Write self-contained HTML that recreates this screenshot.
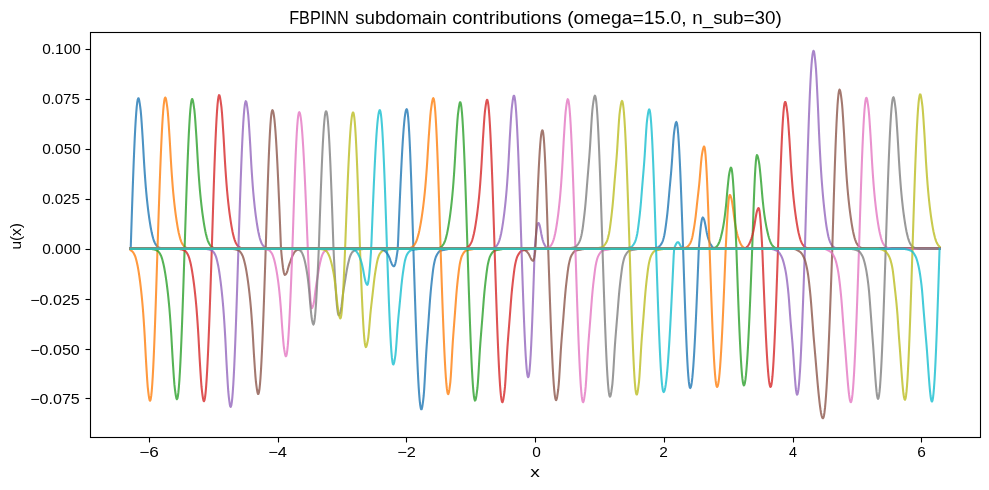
<!DOCTYPE html>
<html><head><meta charset="utf-8"><title>FBPINN subdomain contributions</title>
<style>
html,body{margin:0;padding:0;background:#fff;}
body{width:989px;height:490px;overflow:hidden;font-family:"Liberation Sans",sans-serif;}
svg{display:block;}
text{font-family:"Liberation Sans",sans-serif;fill:#000;}
.txt{opacity:0.999;}
.cv path{fill:none;stroke-width:2.083;stroke-opacity:0.8;stroke-linecap:square;stroke-linejoin:round;}
.tk line{stroke:#000;stroke-width:1.11;}
</style></head>
<body>
<svg width="989" height="490" viewBox="0 0 989 490">
<rect x="0" y="0" width="989" height="490" fill="#ffffff"/>
<defs><clipPath id="ax"><rect x="90.28" y="32.33" width="889.72" height="404.39"/></clipPath></defs>
<g class="cv" clip-path="url(#ax)">
<path d="M130.72,248.28 L131.22,232.94 L131.72,217.76 L132.22,202.90 L132.72,188.52 L133.22,174.77 L133.72,161.79 L134.22,149.72 L134.72,138.67 L135.22,128.77 L135.72,120.12 L136.22,112.81 L136.72,106.92 L137.22,102.50 L137.72,99.60 L138.22,98.25 L138.72,98.53 L139.22,100.39 L139.72,103.35 L140.22,106.92 L140.72,110.93 L141.22,116.65 L141.72,123.68 L142.22,131.29 L142.72,138.95 L143.22,147.57 L143.72,156.62 L144.22,165.13 L144.72,172.56 L145.22,179.58 L145.72,186.08 L146.22,191.93 L146.72,197.12 L147.22,201.95 L147.72,206.43 L148.22,210.59 L148.72,214.44 L149.22,217.99 L149.72,221.34 L150.22,224.51 L150.72,227.47 L151.22,230.18 L151.72,232.61 L152.22,234.76 L152.72,236.74 L153.22,238.56 L153.72,240.18 L154.22,241.54 L154.72,242.64 L155.22,243.61 L155.72,244.46 L156.22,245.19 L156.72,245.81 L157.22,246.30 L157.72,246.74 L158.22,247.11 L158.72,247.41 L159.22,247.64 L159.72,247.82 L160.22,247.99 L160.72,248.13 L161.22,248.26 L161.72,248.37 L162.22,248.47 L162.72,248.57 L163.22,248.65 L163.72,248.73 L164.22,248.80 L164.72,248.86 L165.18,248.90 L939.56,248.90" stroke="#1f77b4"/>
<path d="M130.72,250.28 L131.22,250.56 L131.72,250.93 L132.22,251.37 L132.72,251.89 L133.22,252.52 L133.72,253.28 L134.22,254.19 L134.72,255.23 L135.22,256.43 L135.72,257.93 L136.22,259.71 L136.72,261.72 L137.22,263.91 L137.72,266.32 L138.22,269.08 L138.72,272.14 L139.22,275.47 L139.72,279.01 L140.22,282.76 L140.72,286.83 L141.22,291.26 L141.72,296.06 L142.22,301.25 L142.72,306.87 L143.22,313.27 L143.72,320.39 L144.22,328.05 L144.72,336.38 L145.22,345.89 L145.72,355.53 L146.22,364.15 L146.72,372.37 L147.22,380.22 L147.72,386.81 L148.22,391.41 L148.72,395.29 L149.22,398.53 L149.72,400.52 L150.22,400.69 L150.72,399.13 L151.22,395.92 L151.72,391.10 L152.22,384.72 L152.72,376.85 L153.22,367.59 L153.72,357.02 L154.22,345.27 L154.72,332.46 L155.22,318.73 L155.72,304.24 L156.22,289.15 L156.72,273.61 L157.22,257.81 L157.72,242.19 L158.22,227.02 L158.72,212.06 L159.22,197.48 L159.72,183.42 L160.22,170.03 L160.72,157.43 L161.22,145.76 L161.72,135.13 L162.22,125.66 L162.72,117.44 L163.22,110.54 L163.72,105.05 L164.22,101.02 L164.72,98.48 L165.22,97.47 L165.72,98.08 L166.22,100.20 L166.72,103.32 L167.22,106.94 L167.72,111.18 L168.22,117.18 L168.72,124.35 L169.22,131.99 L169.72,139.73 L170.22,148.48 L170.72,157.51 L171.22,165.86 L171.72,173.20 L172.22,180.16 L172.72,186.59 L173.22,192.34 L173.72,197.47 L174.22,202.26 L174.72,206.71 L175.22,210.83 L175.72,214.65 L176.22,218.17 L176.72,221.50 L177.22,224.66 L177.72,227.60 L178.22,230.29 L178.72,232.70 L179.22,234.83 L179.72,236.80 L180.22,238.61 L180.72,240.22 L181.22,241.57 L181.72,242.66 L182.22,243.62 L182.72,244.47 L183.22,245.19 L183.72,245.80 L184.22,246.30 L184.72,246.73 L185.22,247.10 L185.72,247.40 L186.22,247.63 L186.72,247.82 L187.22,247.98 L187.72,248.13 L188.22,248.26 L188.72,248.37 L189.22,248.47 L189.72,248.56 L190.22,248.65 L190.72,248.73 L191.22,248.80 L191.72,248.86 L192.21,248.90 L939.56,248.90" stroke="#ff7f0e"/>
<path d="M130.72,248.90 L150.38,248.90 L150.88,248.94 L151.38,249.00 L151.88,249.07 L152.38,249.15 L152.88,249.24 L153.38,249.34 L153.88,249.44 L154.38,249.56 L154.88,249.69 L155.38,249.83 L155.88,250.01 L156.38,250.20 L156.88,250.44 L157.38,250.76 L157.88,251.15 L158.38,251.60 L158.88,252.13 L159.38,252.77 L159.88,253.54 L160.38,254.43 L160.88,255.43 L161.38,256.61 L161.88,258.07 L162.38,259.76 L162.88,261.65 L163.38,263.70 L163.88,265.95 L164.38,268.50 L164.88,271.32 L165.38,274.38 L165.88,277.65 L166.38,281.09 L166.88,284.78 L167.38,288.78 L167.88,293.11 L168.38,297.77 L168.88,302.78 L169.38,308.27 L169.88,314.48 L170.38,321.29 L170.88,328.54 L171.38,336.50 L171.88,345.46 L172.38,354.47 L172.88,362.57 L173.38,370.26 L173.88,377.70 L174.38,384.15 L174.88,388.87 L175.38,392.57 L175.88,395.88 L176.38,398.28 L176.88,399.25 L177.38,398.53 L177.88,396.26 L178.38,392.45 L178.88,387.15 L179.38,380.42 L179.88,372.31 L180.38,362.93 L180.88,352.36 L181.38,340.71 L181.88,328.11 L182.38,314.69 L182.88,300.58 L183.38,285.93 L183.88,270.90 L184.38,255.65 L184.88,240.23 L185.38,224.83 L185.88,209.69 L186.38,194.97 L186.88,180.82 L187.38,167.40 L187.88,154.85 L188.38,143.31 L188.88,132.89 L189.38,123.71 L189.88,115.86 L190.38,109.43 L190.88,104.50 L191.38,101.10 L191.88,99.28 L192.38,99.07 L192.88,100.49 L193.38,103.15 L193.88,106.53 L194.38,110.22 L194.88,115.29 L195.38,121.86 L195.88,129.24 L196.38,136.73 L196.88,144.83 L197.38,153.70 L197.88,162.40 L198.38,170.08 L198.88,177.15 L199.38,183.78 L199.88,189.84 L200.38,195.19 L200.88,200.09 L201.38,204.66 L201.88,208.91 L202.38,212.84 L202.88,216.47 L203.38,219.86 L203.88,223.07 L204.38,226.10 L204.88,228.90 L205.38,231.45 L205.88,233.70 L206.38,235.73 L206.88,237.62 L207.38,239.33 L207.88,240.83 L208.38,242.06 L208.88,243.07 L209.38,243.98 L209.88,244.78 L210.38,245.45 L210.88,246.01 L211.38,246.48 L211.88,246.88 L212.38,247.23 L212.88,247.50 L213.38,247.70 L213.88,247.88 L214.38,248.04 L214.88,248.18 L215.38,248.30 L215.88,248.40 L216.38,248.50 L216.88,248.59 L217.38,248.68 L217.88,248.75 L218.38,248.82 L218.88,248.87 L219.24,248.90 L939.56,248.90" stroke="#2ca02c"/>
<path d="M130.72,248.90 L178.03,248.90 L178.53,248.95 L179.03,249.01 L179.53,249.08 L180.03,249.17 L180.53,249.26 L181.03,249.36 L181.53,249.47 L182.03,249.59 L182.53,249.73 L183.03,249.89 L183.53,250.07 L184.03,250.28 L184.53,250.56 L185.03,250.91 L185.53,251.34 L186.03,251.84 L186.53,252.43 L187.03,253.16 L187.53,254.02 L188.03,255.00 L188.53,256.11 L189.03,257.50 L189.53,259.15 L190.03,261.04 L190.53,263.11 L191.03,265.35 L191.53,267.89 L192.03,270.75 L192.53,273.86 L193.03,277.20 L193.53,280.73 L194.03,284.50 L194.53,288.60 L195.03,293.03 L195.53,297.83 L196.03,303.00 L196.53,308.64 L197.03,315.05 L197.53,322.11 L198.03,329.64 L198.53,337.93 L199.03,347.26 L199.53,356.58 L200.03,364.89 L200.53,372.89 L201.03,380.51 L201.53,386.96 L202.03,391.51 L202.53,395.31 L203.03,398.57 L203.53,400.71 L204.03,401.20 L204.53,400.06 L205.03,397.42 L205.53,393.32 L206.03,387.79 L206.53,380.89 L207.03,372.69 L207.53,363.26 L208.03,352.70 L208.53,341.12 L209.03,328.63 L209.53,315.35 L210.03,301.42 L210.53,286.96 L211.03,272.13 L211.53,257.08 L212.03,241.39 L212.53,225.16 L213.03,209.19 L213.53,193.66 L214.03,178.76 L214.53,164.65 L215.03,151.49 L215.53,139.42 L216.03,128.59 L216.53,119.11 L217.03,111.09 L217.53,104.62 L218.03,99.77 L218.53,96.60 L219.03,95.15 L219.53,95.45 L220.03,97.34 L220.53,100.34 L221.03,103.95 L221.53,107.97 L222.03,113.71 L222.53,120.77 L223.03,128.45 L223.53,136.17 L224.03,144.82 L224.53,153.96 L225.03,162.66 L225.53,170.24 L226.03,177.38 L226.53,184.02 L227.03,190.02 L227.53,195.34 L228.03,200.27 L228.53,204.85 L229.03,209.11 L229.53,213.05 L230.03,216.69 L230.53,220.11 L231.03,223.35 L231.53,226.39 L232.03,229.19 L232.53,231.72 L233.03,233.95 L233.53,235.99 L234.03,237.88 L234.53,239.57 L235.03,241.03 L235.53,242.20 L236.03,243.21 L236.53,244.11 L237.03,244.89 L237.53,245.55 L238.03,246.09 L238.53,246.55 L239.03,246.95 L239.53,247.27 L240.03,247.53 L240.53,247.73 L241.03,247.91 L241.53,248.06 L242.03,248.20 L242.53,248.31 L243.03,248.42 L243.53,248.52 L244.03,248.61 L244.53,248.69 L245.03,248.77 L245.53,248.83 L246.03,248.88 L246.24,248.90 L939.56,248.90" stroke="#d62728"/>
<path d="M130.72,248.90 L205.77,248.90 L206.27,248.95 L206.77,249.02 L207.27,249.10 L207.77,249.19 L208.27,249.30 L208.77,249.40 L209.27,249.52 L209.77,249.66 L210.27,249.82 L210.77,250.00 L211.27,250.21 L211.77,250.47 L212.27,250.81 L212.77,251.24 L213.27,251.75 L213.77,252.35 L214.27,253.09 L214.77,253.98 L215.27,255.01 L215.77,256.18 L216.27,257.63 L216.77,259.39 L217.27,261.42 L217.77,263.65 L218.27,266.08 L218.77,268.86 L219.27,271.97 L219.77,275.38 L220.27,279.03 L220.77,282.90 L221.27,287.06 L221.77,291.61 L222.27,296.54 L222.77,301.89 L223.27,307.66 L223.77,314.16 L224.27,321.48 L224.77,329.42 L225.27,337.93 L225.77,347.74 L226.27,357.94 L226.77,367.27 L227.27,375.88 L227.77,384.25 L228.27,391.45 L228.77,396.56 L229.27,400.67 L229.77,404.20 L230.27,406.47 L230.77,406.86 L231.27,405.51 L231.77,402.58 L232.27,398.10 L232.77,392.10 L233.27,384.65 L233.77,375.82 L234.27,365.71 L234.77,354.42 L235.27,342.06 L235.77,328.75 L236.27,314.64 L236.77,299.85 L237.27,284.56 L237.77,268.90 L238.27,253.04 L238.77,237.46 L239.27,222.13 L239.77,207.09 L240.27,192.50 L240.77,178.54 L241.27,165.34 L241.77,153.06 L242.27,141.83 L242.77,131.78 L243.27,123.00 L243.77,115.61 L244.27,109.68 L244.77,105.27 L245.27,102.43 L245.77,101.20 L246.27,101.69 L246.77,103.82 L247.27,107.05 L247.77,110.81 L248.27,115.40 L248.77,121.88 L249.27,129.45 L249.77,137.32 L250.27,145.64 L250.77,154.89 L251.27,163.98 L251.77,171.94 L252.27,179.28 L252.77,186.11 L253.27,192.26 L253.77,197.67 L254.27,202.67 L254.77,207.30 L255.27,211.57 L255.77,215.51 L256.27,219.13 L256.77,222.55 L257.27,225.77 L257.77,228.75 L258.27,231.45 L258.77,233.84 L259.27,235.96 L259.77,237.93 L260.27,239.69 L260.77,241.21 L261.27,242.43 L261.77,243.46 L262.27,244.37 L262.77,245.15 L263.27,245.80 L263.77,246.32 L264.27,246.77 L264.77,247.15 L265.27,247.46 L265.77,247.69 L266.27,247.88 L266.77,248.04 L267.27,248.19 L267.77,248.31 L268.27,248.42 L268.77,248.52 L269.27,248.62 L269.77,248.70 L270.27,248.78 L270.77,248.84 L271.27,248.89 L271.38,248.90 L939.56,248.90" stroke="#9467bd"/>
<path d="M130.72,248.90 L231.94,248.90 L232.44,248.94 L232.94,249.00 L233.44,249.07 L233.94,249.15 L234.44,249.24 L234.94,249.33 L235.44,249.43 L235.94,249.54 L236.44,249.67 L236.94,249.82 L237.44,249.99 L237.94,250.18 L238.44,250.42 L238.94,250.74 L239.44,251.13 L239.94,251.58 L240.44,252.11 L240.94,252.77 L241.44,253.54 L241.94,254.43 L242.44,255.43 L242.94,256.63 L243.44,258.11 L243.94,259.81 L244.44,261.70 L244.94,263.73 L245.44,266.00 L245.94,268.56 L246.44,271.39 L246.94,274.44 L247.44,277.68 L247.94,281.10 L248.44,284.79 L248.94,288.80 L249.44,293.13 L249.94,297.80 L250.44,302.82 L250.94,308.43 L251.44,314.73 L251.94,321.57 L252.44,328.80 L252.94,337.06 L253.44,345.94 L253.94,354.46 L254.44,362.01 L254.94,369.49 L255.44,376.39 L255.94,381.98 L256.44,385.88 L256.94,389.36 L257.44,392.21 L257.94,393.90 L258.44,393.97 L258.94,392.41 L259.44,389.28 L259.94,384.61 L260.44,378.46 L260.94,370.88 L261.44,361.97 L261.94,351.82 L262.44,340.55 L262.94,328.26 L263.44,315.11 L263.94,301.24 L264.44,286.79 L264.94,271.92 L265.44,256.81 L265.94,241.10 L266.44,224.95 L266.94,209.13 L267.44,193.86 L267.94,179.34 L268.44,165.77 L268.94,153.35 L269.44,142.24 L269.94,132.59 L270.44,124.54 L270.94,118.20 L271.44,113.65 L271.94,110.96 L272.44,110.15 L272.94,110.82 L273.44,112.65 L273.94,115.60 L274.44,119.67 L274.94,124.82 L275.44,131.00 L275.94,138.16 L276.44,146.24 L276.94,155.18 L277.44,164.90 L277.94,175.33 L278.44,186.36 L278.94,197.92 L279.44,209.90 L279.94,222.20 L280.44,234.73 L280.94,247.38 L281.44,253.49 L281.94,258.53 L282.44,263.18 L282.94,267.25 L283.44,270.57 L283.94,273.03 L284.44,274.50 L284.94,274.95 L285.44,274.69 L285.94,274.09 L286.44,273.32 L286.94,272.32 L287.44,270.80 L287.94,268.96 L288.44,267.08 L288.94,265.39 L289.44,263.96 L289.94,262.60 L290.44,261.26 L290.94,259.88 L291.44,258.45 L291.94,257.10 L292.44,255.92 L292.94,254.88 L293.44,253.96 L293.94,253.07 L294.44,252.25 L294.94,251.60 L295.44,251.10 L295.94,250.68 L296.44,250.33 L296.94,250.09 L297.44,249.89 L297.94,249.71 L298.44,249.56 L298.94,249.43 L299.44,249.32 L299.94,249.24 L300.44,249.20 L300.94,249.16 L301.44,249.14 L301.94,249.11 L302.44,249.09 L302.94,249.07 L303.44,249.06 L303.94,249.04 L304.44,249.02 L304.94,249.00 L305.44,248.98 L305.94,248.96 L306.44,248.94 L306.94,248.92 L307.31,248.90 L939.56,248.90" stroke="#8c564b"/>
<path d="M130.72,248.90 L262.76,248.90 L263.26,248.94 L263.76,248.99 L264.26,249.05 L264.76,249.12 L265.26,249.20 L265.76,249.28 L266.26,249.37 L266.76,249.48 L267.26,249.60 L267.76,249.75 L268.26,249.93 L268.76,250.17 L269.26,250.48 L269.76,250.84 L270.26,251.29 L270.76,251.84 L271.26,252.51 L271.76,253.29 L272.26,254.20 L272.76,255.36 L273.26,256.75 L273.76,258.32 L274.26,260.03 L274.76,261.98 L275.26,264.20 L275.76,266.66 L276.26,269.31 L276.76,272.13 L277.26,275.20 L277.76,278.55 L278.26,282.22 L278.76,286.21 L279.26,290.58 L279.76,295.61 L280.26,301.20 L280.76,307.19 L281.26,314.04 L281.76,321.49 L282.26,328.48 L282.76,334.76 L283.26,340.89 L283.76,346.10 L284.26,349.68 L284.76,352.64 L285.26,355.03 L285.76,356.28 L286.26,355.94 L286.76,354.04 L287.26,350.60 L287.76,345.68 L288.26,339.34 L288.76,331.69 L289.26,322.83 L289.76,312.89 L290.26,302.02 L290.76,290.38 L291.26,278.13 L291.76,265.45 L292.26,252.53 L292.76,237.54 L293.26,221.91 L293.76,206.64 L294.26,191.94 L294.76,177.99 L295.26,164.99 L295.76,153.10 L296.26,142.49 L296.76,133.30 L297.26,125.65 L297.76,119.65 L298.26,115.36 L298.76,112.86 L299.26,112.16 L299.76,112.86 L300.26,114.71 L300.76,117.66 L301.26,121.72 L301.76,126.83 L302.26,132.96 L302.76,140.06 L303.26,148.06 L303.76,156.90 L304.26,166.51 L304.76,176.81 L305.26,187.71 L305.76,199.12 L306.26,210.94 L306.76,223.08 L307.26,235.43 L307.76,247.90 L308.26,259.56 L308.76,270.75 L309.26,281.09 L309.76,290.20 L310.26,297.72 L310.76,303.37 L311.26,306.92 L311.76,308.24 L312.26,307.83 L312.76,306.64 L313.26,305.01 L313.76,303.08 L314.26,300.05 L314.76,296.19 L315.26,292.02 L315.76,288.06 L316.26,284.72 L316.76,281.67 L317.26,278.72 L317.76,275.75 L318.26,272.64 L318.76,269.54 L319.26,266.67 L319.76,264.19 L320.26,261.98 L320.76,259.98 L321.26,258.04 L321.76,256.30 L322.26,254.91 L322.76,253.84 L323.26,252.91 L323.76,252.16 L324.26,251.62 L324.76,251.19 L325.26,250.79 L325.76,250.44 L326.26,250.15 L326.76,249.90 L327.26,249.72 L327.76,249.60 L328.26,249.52 L328.76,249.46 L329.26,249.40 L329.76,249.35 L330.26,249.31 L330.76,249.27 L331.26,249.24 L331.76,249.20 L332.26,249.15 L332.76,249.11 L333.26,249.06 L333.76,249.01 L334.26,248.97 L334.76,248.92 L335.02,248.90 L939.56,248.90" stroke="#e377c2"/>
<path d="M130.72,248.90 L293.90,248.90 L294.40,248.93 L294.90,248.98 L295.40,249.03 L295.90,249.09 L296.40,249.16 L296.90,249.24 L297.40,249.33 L297.90,249.45 L298.40,249.58 L298.90,249.77 L299.40,250.02 L299.90,250.34 L300.40,250.74 L300.90,251.25 L301.40,251.88 L301.90,252.62 L302.40,253.61 L302.90,254.81 L303.40,256.18 L303.90,257.72 L304.40,259.54 L304.90,261.60 L305.40,263.84 L305.90,266.27 L306.40,268.97 L306.90,271.97 L307.40,275.29 L307.90,279.01 L308.40,283.37 L308.90,288.23 L309.40,293.67 L309.90,299.87 L310.40,305.64 L310.90,310.89 L311.40,315.74 L311.90,319.25 L312.40,321.76 L312.90,323.74 L313.40,324.55 L313.90,323.75 L314.40,321.37 L314.90,317.46 L315.40,312.10 L315.90,305.41 L316.40,297.53 L316.90,288.61 L317.40,278.86 L317.90,268.48 L318.40,257.68 L318.90,245.94 L319.40,231.16 L319.90,216.60 L320.40,202.41 L320.90,188.75 L321.40,175.79 L321.90,163.68 L322.40,152.55 L322.90,142.54 L323.40,133.75 L323.90,126.30 L324.40,120.26 L324.90,115.72 L325.40,112.71 L325.90,111.28 L326.40,111.43 L326.90,113.13 L327.40,116.36 L327.90,121.08 L328.40,127.24 L328.90,134.77 L329.40,143.59 L329.90,153.59 L330.40,164.66 L330.90,176.68 L331.40,189.51 L331.90,203.01 L332.40,217.03 L332.90,231.40 L333.40,245.98 L333.90,256.76 L334.40,266.42 L334.90,275.69 L335.40,284.37 L335.90,292.28 L336.40,299.24 L336.90,305.09 L337.40,309.71 L337.90,313.00 L338.40,314.88 L338.90,315.33 L339.40,314.71 L339.90,313.43 L340.40,311.77 L340.90,309.88 L341.40,306.98 L341.90,303.24 L342.40,299.06 L342.90,294.88 L343.40,291.13 L343.90,287.91 L344.40,284.86 L344.90,281.87 L345.40,278.86 L345.90,275.71 L346.40,272.55 L346.90,269.58 L347.40,266.96 L347.90,264.61 L348.40,262.50 L348.90,260.50 L349.40,258.58 L349.90,256.87 L350.40,255.52 L350.90,254.44 L351.40,253.49 L351.90,252.70 L352.40,252.10 L352.90,251.65 L353.40,251.23 L353.90,250.85 L354.40,250.51 L354.90,250.23 L355.40,249.99 L355.90,249.81 L356.40,249.69 L356.90,249.61 L357.40,249.54 L357.90,249.48 L358.40,249.43 L358.90,249.38 L359.40,249.34 L359.90,249.31 L360.40,249.27 L360.90,249.23 L361.40,249.18 L361.90,249.14 L362.40,249.09 L362.90,249.04 L363.40,249.00 L363.90,248.95 L364.40,248.90 L364.45,248.90 L939.56,248.90" stroke="#7f7f7f"/>
<path d="M130.72,248.90 L318.30,248.90 L318.80,248.93 L319.30,248.96 L319.80,249.00 L320.30,249.05 L320.80,249.10 L321.30,249.16 L321.80,249.23 L322.30,249.30 L322.80,249.39 L323.30,249.50 L323.80,249.64 L324.30,249.83 L324.80,250.06 L325.30,250.34 L325.80,250.69 L326.30,251.13 L326.80,251.64 L327.30,252.23 L327.80,253.00 L328.30,253.92 L328.80,254.98 L329.30,256.14 L329.80,257.48 L330.30,259.00 L330.80,260.69 L331.30,262.51 L331.80,264.46 L332.30,266.59 L332.80,268.94 L333.30,271.51 L333.80,274.31 L334.30,277.47 L334.80,281.10 L335.30,285.06 L335.80,289.42 L336.30,294.41 L336.80,299.31 L337.30,303.61 L337.80,307.82 L338.30,311.46 L338.80,314.00 L339.30,316.01 L339.80,317.62 L340.30,318.42 L340.80,317.83 L341.30,315.33 L341.80,310.97 L342.30,304.89 L342.80,297.25 L343.30,288.26 L343.80,278.18 L344.30,267.27 L344.80,255.86 L345.30,243.54 L345.80,230.19 L346.30,217.02 L346.80,204.16 L347.30,191.73 L347.80,179.85 L348.30,168.64 L348.80,158.20 L349.30,148.63 L349.80,140.03 L350.30,132.47 L350.80,126.04 L351.30,120.79 L351.80,116.77 L352.30,114.03 L352.80,112.59 L353.30,112.49 L353.80,114.08 L354.30,117.41 L354.80,122.45 L355.30,129.12 L355.80,137.34 L356.30,147.01 L356.80,157.99 L357.30,170.15 L357.80,183.33 L358.30,197.36 L358.80,212.06 L359.30,227.23 L359.80,242.68 L360.30,256.74 L360.80,269.67 L361.30,282.23 L361.80,294.20 L362.30,305.37 L362.80,315.54 L363.30,324.54 L363.80,332.19 L364.30,338.37 L364.80,342.97 L365.30,345.90 L365.80,347.12 L366.30,346.74 L366.80,345.27 L367.30,343.09 L367.80,340.58 L368.30,337.32 L368.80,332.56 L369.30,326.86 L369.80,320.80 L370.30,314.95 L370.80,309.88 L371.30,305.35 L371.80,301.01 L372.30,296.73 L372.80,292.39 L373.30,287.85 L373.80,283.34 L374.30,279.12 L374.80,275.40 L375.30,272.05 L375.80,269.03 L376.30,266.15 L376.80,263.39 L377.30,260.92 L377.80,258.91 L378.30,257.33 L378.80,255.94 L379.30,254.76 L379.80,253.83 L380.30,253.14 L380.80,252.53 L381.30,251.97 L381.80,251.46 L382.30,251.02 L382.80,250.65 L383.30,250.36 L383.80,250.15 L384.30,250.01 L384.80,249.90 L385.30,249.81 L385.80,249.73 L386.30,249.66 L386.80,249.60 L387.30,249.54 L387.80,249.49 L388.30,249.43 L388.80,249.37 L389.30,249.31 L389.80,249.24 L390.30,249.17 L390.80,249.11 L391.30,249.04 L391.80,248.97 L392.30,248.91 L392.36,248.90 L939.56,248.90" stroke="#bcbd22"/>
<path d="M130.72,248.90 L347.41,248.90 L347.91,248.91 L348.41,248.94 L348.91,248.96 L349.41,248.99 L349.91,249.02 L350.41,249.06 L350.91,249.10 L351.41,249.15 L351.91,249.21 L352.41,249.29 L352.91,249.40 L353.41,249.55 L353.91,249.72 L354.41,249.95 L354.91,250.22 L355.41,250.55 L355.91,250.97 L356.41,251.50 L356.91,252.11 L357.41,252.79 L357.91,253.59 L358.41,254.50 L358.91,255.51 L359.41,256.60 L359.91,257.79 L360.41,259.12 L360.91,260.59 L361.41,262.20 L361.91,264.07 L362.41,266.21 L362.91,268.54 L363.41,271.26 L363.91,274.14 L364.41,276.69 L364.91,279.12 L365.41,281.24 L365.91,282.67 L366.41,283.80 L366.91,284.62 L367.41,284.81 L367.91,283.77 L368.41,281.32 L368.91,277.55 L369.41,272.63 L369.91,266.75 L370.41,260.15 L370.91,253.09 L371.41,243.58 L371.91,230.96 L372.41,218.48 L372.91,206.26 L373.41,194.40 L373.91,182.99 L374.41,172.13 L374.91,161.91 L375.41,152.41 L375.91,143.72 L376.41,135.91 L376.91,129.04 L377.41,123.16 L377.91,118.34 L378.41,114.60 L378.91,111.98 L379.41,110.50 L379.91,110.19 L380.41,111.38 L380.91,114.20 L381.41,118.62 L381.91,124.59 L382.41,132.04 L382.91,140.88 L383.41,151.00 L383.91,162.29 L384.41,174.61 L384.91,187.80 L385.41,201.73 L385.91,216.22 L386.41,231.09 L386.91,246.18 L387.41,260.70 L387.91,274.92 L388.41,288.73 L388.91,301.92 L389.41,314.29 L389.91,325.64 L390.41,335.80 L390.91,344.62 L391.41,351.94 L391.91,357.67 L392.41,361.71 L392.91,364.00 L393.41,364.51 L393.91,363.43 L394.41,361.22 L394.91,358.35 L395.41,355.12 L395.91,350.19 L396.41,343.78 L396.91,336.61 L397.41,329.39 L397.91,322.85 L398.41,317.27 L398.91,311.99 L399.41,306.84 L399.91,301.67 L400.41,296.28 L400.91,290.82 L401.41,285.62 L401.91,281.02 L402.41,276.91 L402.91,273.21 L403.41,269.74 L403.91,266.39 L404.41,263.36 L404.91,260.88 L405.41,258.96 L405.91,257.27 L406.41,255.83 L406.91,254.71 L407.41,253.89 L407.91,253.15 L408.41,252.48 L408.91,251.88 L409.41,251.36 L409.91,250.92 L410.41,250.58 L410.91,250.34 L411.41,250.19 L411.91,250.06 L412.41,249.95 L412.91,249.85 L413.41,249.77 L413.91,249.70 L414.41,249.63 L414.91,249.57 L415.41,249.50 L415.91,249.43 L416.41,249.35 L416.91,249.27 L417.41,249.19 L417.91,249.11 L418.41,249.03 L418.91,248.95 L419.22,248.90 L939.56,248.90" stroke="#17becf"/>
<path d="M130.72,248.90 L375.18,248.90 L375.68,248.91 L376.18,248.92 L376.68,248.93 L377.18,248.95 L377.68,248.96 L378.18,248.98 L378.68,249.01 L379.18,249.04 L379.68,249.07 L380.18,249.12 L380.68,249.19 L381.18,249.27 L381.68,249.38 L382.18,249.52 L382.68,249.69 L383.18,249.90 L383.68,250.18 L384.18,250.50 L384.68,250.86 L385.18,251.28 L385.68,251.77 L386.18,252.30 L386.68,252.88 L387.18,253.53 L387.68,254.25 L388.18,255.05 L388.68,255.96 L389.18,257.03 L389.68,258.22 L390.18,259.58 L390.68,261.07 L391.18,262.39 L391.68,263.64 L392.18,264.70 L392.68,265.40 L393.18,265.96 L393.68,266.31 L394.18,266.24 L394.68,265.50 L395.18,264.08 L395.68,262.05 L396.18,259.49 L396.68,256.51 L397.18,253.21 L397.68,249.74 L398.18,239.53 L398.68,227.28 L399.18,215.20 L399.68,203.38 L400.18,191.91 L400.68,180.88 L401.18,170.39 L401.68,160.51 L402.18,151.31 L402.68,142.87 L403.18,135.26 L403.68,128.54 L404.18,122.75 L404.68,117.94 L405.18,114.15 L405.68,111.41 L406.18,109.74 L406.68,109.15 L407.18,110.03 L407.68,112.82 L408.18,117.48 L408.68,123.94 L409.18,132.11 L409.68,141.89 L410.18,153.14 L410.68,165.70 L411.18,179.40 L411.68,194.06 L412.18,209.47 L412.68,225.42 L413.18,241.70 L413.68,257.72 L414.18,273.39 L414.68,288.83 L415.18,303.88 L415.68,318.40 L416.18,332.25 L416.68,345.30 L417.18,357.42 L417.68,368.49 L418.18,378.42 L418.68,387.09 L419.18,394.44 L419.68,400.38 L420.18,404.87 L420.68,407.85 L421.18,409.30 L421.68,409.14 L422.18,407.25 L422.68,404.12 L423.18,400.29 L423.68,395.96 L424.18,389.41 L424.68,381.06 L425.18,371.72 L425.68,362.24 L426.18,353.45 L426.68,345.94 L427.18,338.95 L427.68,332.18 L428.18,325.46 L428.68,318.58 L429.18,311.44 L429.68,304.38 L430.18,297.82 L430.68,292.02 L431.18,286.77 L431.68,282.01 L432.18,277.49 L432.68,273.12 L433.18,269.15 L433.68,265.85 L434.18,263.28 L434.68,261.01 L435.18,259.05 L435.68,257.45 L436.18,256.26 L436.68,255.26 L437.18,254.34 L437.68,253.50 L438.18,252.76 L438.68,252.11 L439.18,251.58 L439.68,251.16 L440.18,250.87 L440.68,250.67 L441.18,250.50 L441.68,250.36 L442.18,250.24 L442.68,250.13 L443.18,250.03 L443.68,249.94 L444.18,249.86 L444.68,249.77 L445.18,249.68 L445.68,249.58 L446.18,249.48 L446.68,249.37 L447.18,249.26 L447.68,249.16 L448.18,249.06 L448.68,248.95 L448.94,248.90 L939.56,248.90" stroke="#1f77b4"/>
<path d="M130.72,248.90 L404.31,248.90 L404.81,248.86 L405.31,248.81 L405.81,248.74 L406.31,248.67 L406.81,248.59 L407.31,248.51 L407.81,248.42 L408.31,248.32 L408.81,248.21 L409.31,248.09 L409.81,247.95 L410.31,247.80 L410.81,247.62 L411.31,247.41 L411.81,247.13 L412.31,246.80 L412.81,246.40 L413.31,245.96 L413.81,245.43 L414.31,244.80 L414.81,244.07 L415.31,243.23 L415.81,242.31 L416.31,241.23 L416.81,239.91 L417.31,238.39 L417.81,236.70 L418.31,234.87 L418.81,232.91 L419.31,230.71 L419.81,228.26 L420.31,225.60 L420.81,222.74 L421.31,219.72 L421.81,216.56 L422.31,213.18 L422.81,209.54 L423.31,205.64 L423.81,201.45 L424.31,196.97 L424.81,192.18 L425.31,186.83 L425.81,180.91 L426.31,174.53 L426.81,167.81 L427.31,160.37 L427.81,152.13 L428.31,143.83 L428.81,136.25 L429.31,129.23 L429.81,122.26 L430.31,115.91 L430.81,110.74 L431.31,107.06 L431.81,103.74 L432.31,100.88 L432.81,98.88 L433.31,98.15 L433.81,99.06 L434.31,101.70 L434.81,106.04 L435.31,112.03 L435.81,119.61 L436.31,128.68 L436.81,139.14 L437.31,150.87 L437.81,163.74 L438.31,177.59 L438.81,192.26 L439.31,207.59 L439.81,223.40 L440.31,239.50 L440.81,255.20 L441.31,270.14 L441.81,284.85 L442.31,299.17 L442.81,312.96 L443.31,326.07 L443.81,338.35 L444.31,349.68 L444.81,359.93 L445.31,369.00 L445.81,376.79 L446.31,383.21 L446.81,388.20 L447.31,391.70 L447.81,393.68 L448.31,394.10 L448.81,392.74 L449.31,389.96 L449.81,386.37 L450.31,382.31 L450.81,376.12 L451.31,368.06 L451.81,359.05 L452.31,349.99 L452.81,341.78 L453.31,334.77 L453.81,328.14 L454.31,321.68 L454.81,315.17 L455.31,308.40 L455.81,301.55 L456.31,295.02 L456.81,289.24 L457.31,284.08 L457.81,279.43 L458.31,275.08 L458.81,270.87 L459.31,267.06 L459.81,263.95 L460.31,261.54 L460.81,259.41 L461.31,257.61 L461.81,256.20 L462.31,255.16 L462.81,254.24 L463.31,253.40 L463.81,252.64 L464.31,251.99 L464.81,251.44 L465.31,251.01 L465.81,250.71 L466.31,250.51 L466.81,250.35 L467.31,250.22 L467.81,250.10 L468.31,250.00 L468.81,249.91 L469.31,249.82 L469.81,249.74 L470.31,249.66 L470.81,249.57 L471.31,249.47 L471.81,249.36 L472.31,249.26 L472.81,249.16 L473.31,249.06 L473.81,248.96 L474.12,248.90 L939.56,248.90" stroke="#ff7f0e"/>
<path d="M130.72,248.90 L433.94,248.90 L434.44,248.86 L434.94,248.80 L435.44,248.73 L435.94,248.65 L436.44,248.56 L436.94,248.47 L437.44,248.36 L437.94,248.25 L438.44,248.12 L438.94,247.97 L439.44,247.80 L439.94,247.60 L440.44,247.36 L440.94,247.04 L441.44,246.64 L441.94,246.19 L442.44,245.65 L442.94,244.99 L443.44,244.21 L443.94,243.32 L444.44,242.30 L444.94,241.09 L445.44,239.60 L445.94,237.88 L446.44,235.97 L446.94,233.92 L447.44,231.62 L447.94,229.03 L448.44,226.18 L448.94,223.10 L449.44,219.82 L449.94,216.37 L450.44,212.64 L450.94,208.59 L451.44,204.21 L451.94,199.50 L452.44,194.42 L452.94,188.75 L453.44,182.39 L453.94,175.48 L454.44,168.18 L454.94,159.83 L455.44,150.86 L455.94,142.25 L456.44,134.63 L456.94,127.07 L457.44,120.09 L457.94,114.45 L458.44,110.51 L458.94,106.99 L459.44,104.11 L459.94,102.40 L460.44,102.35 L460.94,104.01 L461.44,107.34 L461.94,112.32 L462.44,118.87 L462.94,126.93 L463.44,136.39 L463.94,147.16 L464.44,159.11 L464.94,172.09 L465.44,185.96 L465.94,200.56 L466.44,215.72 L466.94,231.26 L467.44,247.01 L467.94,262.68 L468.44,278.20 L468.94,293.40 L469.44,308.13 L469.94,322.23 L470.44,335.54 L470.94,347.93 L471.44,359.26 L471.94,369.42 L472.44,378.29 L472.94,385.78 L473.44,391.81 L473.94,396.31 L474.44,399.24 L474.94,400.57 L475.44,400.24 L475.94,398.39 L476.44,395.46 L476.94,391.94 L477.44,387.97 L477.94,382.01 L478.44,374.41 L478.94,365.88 L479.44,357.16 L479.94,348.95 L480.44,341.88 L480.94,335.40 L481.44,329.16 L481.94,322.99 L482.44,316.74 L482.94,310.23 L483.44,303.69 L483.94,297.45 L484.44,291.85 L484.94,286.83 L485.44,282.26 L485.94,278.06 L486.44,273.94 L486.94,270.07 L487.44,266.66 L487.94,263.93 L488.44,261.70 L488.94,259.70 L489.44,258.00 L489.94,256.63 L490.44,255.62 L490.94,254.72 L491.44,253.89 L491.94,253.13 L492.44,252.46 L492.94,251.88 L493.44,251.40 L493.94,251.02 L494.44,250.75 L494.94,250.58 L495.44,250.42 L495.94,250.29 L496.44,250.18 L496.94,250.08 L497.44,249.99 L497.94,249.90 L498.44,249.82 L498.94,249.75 L499.44,249.66 L499.94,249.58 L500.44,249.48 L500.94,249.38 L501.44,249.28 L501.94,249.19 L502.44,249.09 L502.94,249.00 L503.44,248.90 L503.45,248.90 L939.56,248.90" stroke="#2ca02c"/>
<path d="M130.72,248.90 L460.97,248.90 L461.47,248.86 L461.97,248.80 L462.47,248.72 L462.97,248.64 L463.47,248.55 L463.97,248.46 L464.47,248.35 L464.97,248.23 L465.47,248.10 L465.97,247.95 L466.47,247.77 L466.97,247.57 L467.47,247.32 L467.97,246.98 L468.47,246.57 L468.97,246.11 L469.47,245.55 L469.97,244.87 L470.47,244.06 L470.97,243.13 L471.47,242.08 L471.97,240.81 L472.47,239.26 L472.97,237.47 L473.47,235.51 L473.97,233.39 L474.47,231.00 L474.97,228.32 L475.47,225.37 L475.97,222.19 L476.47,218.82 L476.97,215.25 L477.47,211.39 L477.97,207.20 L478.47,202.67 L478.97,197.79 L479.47,192.53 L479.97,186.59 L480.47,179.97 L480.97,172.84 L481.47,165.23 L481.97,156.49 L482.47,147.32 L482.97,138.74 L483.47,131.02 L483.97,123.37 L484.47,116.50 L484.97,111.16 L485.47,107.34 L485.97,103.86 L486.47,101.17 L486.97,99.82 L487.47,100.20 L487.97,102.22 L488.47,105.85 L488.97,111.04 L489.47,117.75 L489.97,125.89 L490.47,135.38 L490.97,146.12 L491.47,157.98 L491.97,170.84 L492.47,184.55 L492.97,198.97 L493.47,213.93 L493.97,229.28 L494.47,244.84 L494.97,260.32 L495.47,275.63 L495.97,290.67 L496.47,305.29 L496.97,319.34 L497.47,332.68 L497.97,345.17 L498.47,356.68 L498.97,367.10 L499.47,376.32 L499.97,384.25 L500.47,390.81 L500.97,395.94 L501.47,399.57 L501.97,401.68 L502.47,402.23 L502.97,401.14 L503.47,398.71 L503.97,395.42 L504.47,391.74 L504.97,386.92 L505.47,380.05 L505.97,371.84 L506.47,363.04 L506.97,354.37 L507.47,346.56 L507.97,339.81 L508.47,333.39 L508.97,327.14 L509.47,320.89 L509.97,314.46 L510.47,307.82 L510.97,301.31 L511.47,295.26 L511.97,289.91 L512.47,285.05 L512.97,280.63 L513.47,276.44 L513.97,272.36 L514.47,268.63 L514.97,265.48 L515.47,263.02 L515.97,260.87 L516.47,258.98 L516.97,257.41 L517.47,256.21 L517.97,255.26 L518.47,254.38 L518.97,253.58 L519.47,252.85 L519.97,252.22 L520.47,251.67 L520.97,251.23 L521.47,250.90 L521.97,250.69 L522.47,250.52 L522.97,250.37 L523.47,250.25 L523.97,250.14 L524.47,250.04 L524.97,249.96 L525.47,249.88 L525.97,249.80 L526.47,249.72 L526.97,249.63 L527.47,249.54 L527.97,249.44 L528.47,249.34 L528.97,249.24 L529.47,249.14 L529.97,249.05 L530.47,248.95 L530.75,248.90 L939.56,248.90" stroke="#d62728"/>
<path d="M130.72,248.90 L488.68,248.90 L489.18,248.85 L489.68,248.79 L490.18,248.71 L490.68,248.62 L491.18,248.52 L491.68,248.42 L492.18,248.31 L492.68,248.18 L493.18,248.03 L493.68,247.86 L494.18,247.66 L494.68,247.43 L495.18,247.12 L495.68,246.73 L496.18,246.26 L496.68,245.72 L497.18,245.04 L497.68,244.23 L498.18,243.28 L498.68,242.21 L499.18,240.93 L499.68,239.34 L500.18,237.49 L500.68,235.42 L501.18,233.19 L501.68,230.67 L502.18,227.83 L502.68,224.69 L503.18,221.30 L503.68,217.70 L504.18,213.88 L504.68,209.72 L505.18,205.19 L505.68,200.30 L506.18,195.01 L506.68,189.24 L507.18,182.67 L507.68,175.41 L508.18,167.65 L508.68,159.07 L509.18,149.42 L509.68,139.84 L510.18,131.36 L510.68,123.11 L511.18,115.37 L511.68,109.01 L512.18,104.62 L512.68,100.77 L513.18,97.65 L513.68,95.86 L514.18,95.91 L514.68,97.64 L515.18,100.98 L515.68,105.90 L516.18,112.35 L516.68,120.26 L517.18,129.54 L517.68,140.09 L518.18,151.80 L518.68,164.55 L519.18,178.20 L519.68,192.60 L520.18,207.61 L520.68,223.05 L521.18,238.77 L521.68,254.31 L522.18,269.26 L522.68,283.93 L523.18,298.12 L523.68,311.63 L524.18,324.28 L524.68,335.90 L525.18,346.32 L525.68,355.41 L526.18,363.03 L526.68,369.09 L527.18,373.50 L527.68,376.20 L528.18,377.15 L528.68,376.29 L529.18,373.57 L529.68,369.03 L530.18,362.75 L530.68,354.80 L531.18,345.31 L531.68,334.41 L532.18,322.26 L532.68,309.05 L533.18,294.96 L533.68,280.19 L534.18,264.97 L534.68,249.52 L535.18,243.63 L535.68,238.37 L536.18,233.59 L536.68,229.49 L537.18,226.27 L537.68,224.06 L538.18,222.96 L538.68,223.03 L539.18,223.98 L539.68,225.36 L540.18,227.62 L540.68,230.22 L541.18,233.21 L541.68,235.84 L542.18,238.10 L542.68,239.95 L543.18,241.52 L543.68,242.87 L544.18,244.04 L544.68,245.08 L545.18,245.97 L545.68,246.68 L546.18,247.29 L546.68,247.74 L547.18,248.06 L547.68,248.31 L548.18,248.48 L548.68,248.61 L549.18,248.69 L549.68,248.75 L550.18,248.79 L550.68,248.83 L551.18,248.86 L551.68,248.88 L552.18,248.90 L939.56,248.90" stroke="#9467bd"/>
<path d="M130.72,248.90 L516.72,248.90 L517.22,248.91 L517.72,248.92 L518.22,248.93 L518.72,248.94 L519.22,248.95 L519.72,248.97 L520.22,248.99 L520.72,249.02 L521.22,249.06 L521.72,249.12 L522.22,249.20 L522.72,249.30 L523.22,249.42 L523.72,249.59 L524.22,249.80 L524.72,250.06 L525.22,250.36 L525.72,250.72 L526.22,251.12 L526.72,251.57 L527.22,252.07 L527.72,252.64 L528.22,253.28 L528.72,254.04 L529.22,254.92 L529.72,255.93 L530.22,257.09 L530.72,258.14 L531.22,259.11 L531.72,259.88 L532.22,260.37 L532.72,260.74 L533.22,260.81 L533.72,259.88 L534.22,257.78 L534.72,254.74 L535.22,251.08 L535.72,242.96 L536.22,229.52 L536.72,216.34 L537.22,203.58 L537.72,191.41 L538.22,179.98 L538.72,169.44 L539.22,159.93 L539.72,151.57 L540.22,144.48 L540.72,138.73 L541.22,134.41 L541.72,131.57 L542.22,130.25 L542.72,130.60 L543.22,133.07 L543.72,137.66 L544.22,144.29 L544.72,152.83 L545.22,163.13 L545.72,175.00 L546.22,188.23 L546.72,202.57 L547.22,217.75 L547.72,233.51 L548.22,249.50 L548.72,264.52 L549.22,279.39 L549.72,293.95 L550.22,308.07 L550.72,321.60 L551.22,334.42 L551.72,346.39 L552.22,357.40 L552.72,367.34 L553.22,376.11 L553.72,383.62 L554.22,389.80 L554.72,394.59 L555.22,397.94 L555.72,399.82 L556.22,400.20 L556.72,398.97 L557.22,396.46 L557.72,393.15 L558.22,389.51 L558.72,384.52 L559.22,377.57 L559.72,369.39 L560.22,360.68 L560.72,352.17 L561.22,344.59 L561.72,337.98 L562.22,331.67 L562.72,325.50 L563.22,319.33 L563.72,312.95 L564.22,306.40 L564.72,300.00 L565.22,294.10 L565.72,288.88 L566.22,284.12 L566.72,279.80 L567.22,275.67 L567.72,271.67 L568.22,268.04 L568.72,264.99 L569.22,262.62 L569.72,260.51 L570.22,258.68 L570.72,257.17 L571.22,256.01 L571.72,255.09 L572.22,254.23 L572.72,253.44 L573.22,252.74 L573.72,252.12 L574.22,251.59 L574.72,251.17 L575.22,250.85 L575.72,250.65 L576.22,250.48 L576.72,250.34 L577.22,250.22 L577.72,250.11 L578.22,250.02 L578.72,249.94 L579.22,249.86 L579.72,249.78 L580.22,249.70 L580.72,249.61 L581.22,249.52 L581.72,249.42 L582.22,249.32 L582.72,249.23 L583.22,249.13 L583.72,249.04 L584.22,248.94 L584.45,248.90 L939.56,248.90" stroke="#8c564b"/>
<path d="M130.72,248.90 L542.71,248.90 L543.21,248.85 L543.71,248.79 L544.21,248.71 L544.71,248.63 L545.21,248.53 L545.71,248.43 L546.21,248.32 L546.71,248.19 L547.21,248.04 L547.71,247.87 L548.21,247.68 L548.71,247.45 L549.21,247.14 L549.71,246.74 L550.21,246.28 L550.71,245.74 L551.21,245.06 L551.71,244.26 L552.21,243.31 L552.71,242.24 L553.21,240.96 L553.71,239.36 L554.21,237.52 L554.71,235.46 L555.21,233.25 L555.71,230.73 L556.21,227.90 L556.71,224.78 L557.21,221.41 L557.71,217.85 L558.21,214.05 L558.71,209.90 L559.21,205.40 L559.71,200.52 L560.21,195.26 L560.71,189.47 L561.21,182.87 L561.71,175.63 L562.21,167.92 L562.71,159.22 L563.21,149.66 L563.71,140.42 L564.21,132.25 L564.71,124.19 L565.21,116.82 L565.71,111.02 L566.21,106.97 L566.71,103.31 L567.21,100.51 L567.71,99.18 L568.21,99.69 L568.71,101.79 L569.21,105.46 L569.71,110.67 L570.21,117.35 L570.71,125.43 L571.21,134.83 L571.71,145.45 L572.21,157.17 L572.71,169.87 L573.21,183.41 L573.71,197.65 L574.21,212.44 L574.71,227.62 L575.21,243.02 L575.71,258.59 L576.21,274.12 L576.71,289.40 L577.21,304.24 L577.71,318.52 L578.21,332.07 L578.71,344.76 L579.21,356.45 L579.71,367.02 L580.21,376.36 L580.71,384.38 L581.21,390.99 L581.71,396.13 L582.21,399.73 L582.71,401.76 L583.21,402.21 L583.71,400.99 L584.21,398.47 L584.71,395.13 L585.21,391.44 L585.71,386.44 L586.21,379.43 L586.71,371.15 L587.21,362.33 L587.71,353.71 L588.21,346.00 L588.71,339.28 L589.21,332.89 L589.71,326.64 L590.21,320.39 L590.71,313.93 L591.21,307.29 L591.71,300.80 L592.21,294.81 L592.71,289.51 L593.21,284.68 L593.71,280.29 L594.21,276.10 L594.71,272.05 L595.21,268.36 L595.71,265.26 L596.21,262.84 L596.71,260.71 L597.21,258.85 L597.71,257.30 L598.21,256.13 L598.71,255.19 L599.21,254.32 L599.71,253.52 L600.21,252.80 L600.71,252.17 L601.21,251.64 L601.71,251.20 L602.21,250.88 L602.71,250.67 L603.21,250.51 L603.71,250.36 L604.21,250.24 L604.71,250.13 L605.21,250.04 L605.71,249.95 L606.21,249.87 L606.71,249.79 L607.21,249.71 L607.71,249.63 L608.21,249.53 L608.71,249.43 L609.21,249.33 L609.71,249.23 L610.21,249.14 L610.71,249.04 L611.21,248.95 L611.45,248.90 L939.56,248.90" stroke="#e377c2"/>
<path d="M130.72,248.90 L565.88,248.90 L566.38,248.81 L566.88,248.71 L567.38,248.62 L567.88,248.53 L568.38,248.43 L568.88,248.33 L569.38,248.23 L569.88,248.15 L570.38,248.06 L570.88,247.99 L571.38,247.91 L571.88,247.83 L572.38,247.74 L572.88,247.65 L573.38,247.54 L573.88,247.42 L574.38,247.27 L574.88,247.11 L575.38,246.90 L575.88,246.58 L576.38,246.15 L576.88,245.63 L577.38,245.01 L577.88,244.31 L578.38,243.54 L578.88,242.69 L579.38,241.78 L579.88,240.68 L580.38,239.22 L580.88,237.45 L581.38,235.41 L581.88,233.14 L582.38,230.29 L582.88,226.81 L583.38,222.93 L583.88,218.85 L584.38,214.68 L584.88,210.13 L585.38,205.14 L585.88,199.57 L586.38,193.40 L586.88,186.94 L587.38,180.52 L587.88,174.34 L588.38,168.26 L588.88,162.12 L589.38,155.76 L589.88,148.91 L590.38,140.95 L590.88,132.38 L591.38,123.87 L591.88,116.11 L592.38,109.78 L592.88,105.47 L593.38,101.91 L593.88,98.79 L594.38,96.56 L594.88,95.65 L595.38,96.39 L595.88,98.75 L596.38,102.72 L596.88,108.24 L597.38,115.27 L597.88,123.72 L598.38,133.51 L598.88,144.53 L599.38,156.66 L599.88,169.77 L600.38,183.74 L600.88,198.39 L601.38,213.59 L601.88,229.16 L602.38,244.94 L602.88,260.50 L603.38,275.84 L603.88,290.89 L604.38,305.48 L604.88,319.45 L605.38,332.64 L605.88,344.92 L606.38,356.15 L606.88,366.20 L607.38,374.96 L607.88,382.35 L608.38,388.27 L608.88,392.66 L609.38,395.49 L609.88,396.70 L610.38,396.27 L610.88,394.38 L611.38,391.47 L611.88,388.01 L612.38,384.05 L612.88,378.12 L613.38,370.63 L613.88,362.28 L614.38,353.79 L614.88,345.85 L615.38,339.04 L615.88,332.74 L616.38,326.67 L616.88,320.67 L617.38,314.56 L617.88,308.21 L618.38,301.84 L618.88,295.79 L619.38,290.39 L619.88,285.53 L620.38,281.11 L620.88,277.02 L621.38,273.03 L621.88,269.27 L622.38,265.99 L622.88,263.39 L623.38,261.22 L623.88,259.30 L624.38,257.66 L624.88,256.35 L625.38,255.38 L625.88,254.51 L626.38,253.71 L626.88,252.98 L627.38,252.33 L627.88,251.77 L628.38,251.30 L628.88,250.94 L629.38,250.69 L629.88,250.52 L630.38,250.37 L630.88,250.25 L631.38,250.14 L631.88,250.04 L632.38,249.95 L632.88,249.87 L633.38,249.79 L633.88,249.72 L634.38,249.64 L634.88,249.55 L635.38,249.46 L635.88,249.36 L636.38,249.27 L636.88,249.17 L637.38,249.08 L637.88,248.99 L638.35,248.90 L939.56,248.90" stroke="#7f7f7f"/>
<path d="M130.72,248.90 L592.98,248.90 L593.48,248.81 L593.98,248.72 L594.48,248.63 L594.98,248.54 L595.48,248.45 L595.98,248.35 L596.48,248.26 L596.98,248.17 L597.48,248.09 L597.98,248.02 L598.48,247.94 L598.98,247.87 L599.48,247.78 L599.98,247.69 L600.48,247.59 L600.98,247.47 L601.48,247.33 L601.98,247.17 L602.48,246.97 L602.98,246.66 L603.48,246.25 L603.98,245.74 L604.48,245.15 L604.98,244.47 L605.48,243.72 L605.98,242.91 L606.48,242.03 L606.98,240.96 L607.48,239.56 L607.98,237.85 L608.48,235.88 L608.98,233.69 L609.48,230.93 L609.98,227.57 L610.48,223.83 L610.98,219.89 L611.48,215.87 L611.98,211.47 L612.48,206.65 L612.98,201.28 L613.48,195.32 L613.98,189.08 L614.48,182.88 L614.98,176.92 L615.48,171.05 L615.98,165.12 L616.48,158.98 L616.98,152.37 L617.48,144.68 L617.98,136.41 L618.48,128.19 L618.98,120.70 L619.48,114.59 L619.98,110.43 L620.48,106.99 L620.98,103.98 L621.48,101.82 L621.98,100.95 L622.48,101.66 L622.98,103.94 L623.48,107.77 L623.98,113.11 L624.48,119.89 L624.98,128.05 L625.48,137.50 L625.98,148.14 L626.48,159.85 L626.98,172.51 L627.48,185.99 L627.98,200.14 L628.48,214.81 L628.98,229.84 L629.48,245.08 L629.98,260.99 L630.48,276.96 L630.98,292.59 L631.48,307.68 L631.98,322.06 L632.48,335.54 L632.98,347.96 L633.48,359.17 L633.98,369.04 L634.48,377.43 L634.98,384.26 L635.48,389.43 L635.98,392.88 L636.48,394.57 L636.98,394.47 L637.48,392.70 L637.98,389.77 L638.48,386.21 L638.98,382.09 L639.48,375.84 L639.98,367.96 L640.48,359.25 L640.98,350.52 L641.48,342.56 L641.98,335.75 L642.48,329.33 L642.98,323.09 L643.48,316.84 L643.98,310.39 L644.48,303.76 L644.98,297.32 L645.48,291.47 L645.98,286.30 L646.48,281.61 L646.98,277.33 L647.48,273.17 L647.98,269.25 L648.48,265.83 L648.98,263.13 L649.48,260.90 L649.98,258.93 L650.48,257.29 L650.98,256.01 L651.48,255.05 L651.98,254.17 L652.48,253.36 L652.98,252.64 L653.48,252.01 L653.98,251.48 L654.48,251.05 L654.98,250.75 L655.48,250.55 L655.98,250.39 L656.48,250.25 L656.98,250.14 L657.48,250.03 L657.98,249.94 L658.48,249.86 L658.98,249.78 L659.48,249.70 L659.98,249.62 L660.48,249.53 L660.98,249.43 L661.48,249.33 L661.98,249.23 L662.48,249.13 L662.98,249.04 L663.48,248.94 L663.70,248.90 L939.56,248.90" stroke="#bcbd22"/>
<path d="M130.72,248.90 L622.20,248.90 L622.70,248.81 L623.20,248.72 L623.70,248.63 L624.20,248.53 L624.70,248.44 L625.20,248.34 L625.70,248.25 L626.20,248.17 L626.70,248.09 L627.20,248.02 L627.70,247.94 L628.20,247.86 L628.70,247.76 L629.20,247.66 L629.70,247.53 L630.20,247.39 L630.70,247.23 L631.20,246.99 L631.70,246.63 L632.20,246.17 L632.70,245.61 L633.20,244.95 L633.70,244.22 L634.20,243.41 L634.70,242.52 L635.20,241.47 L635.70,240.05 L636.20,238.30 L636.70,236.27 L637.20,233.96 L637.70,230.97 L638.20,227.41 L638.70,223.50 L639.20,219.48 L639.70,215.19 L640.20,210.46 L640.70,205.18 L641.20,199.23 L641.70,192.92 L642.20,186.63 L642.70,180.59 L643.20,174.64 L643.70,168.60 L644.20,162.29 L644.70,155.24 L645.20,147.12 L645.70,138.68 L646.20,130.69 L646.70,123.91 L647.20,119.12 L647.70,115.60 L648.20,112.46 L648.70,110.21 L649.20,109.35 L649.70,110.25 L650.20,112.95 L650.70,117.41 L651.20,123.57 L651.70,131.35 L652.20,140.65 L652.70,151.35 L653.20,163.32 L653.70,176.39 L654.20,190.40 L654.70,205.17 L655.20,220.51 L655.70,236.21 L656.20,251.90 L656.70,266.84 L657.20,281.59 L657.70,295.98 L658.20,309.85 L658.70,323.06 L659.20,335.45 L659.70,346.89 L660.20,357.26 L660.70,366.45 L661.20,374.34 L661.70,380.86 L662.20,385.94 L662.70,389.51 L663.20,391.55 L663.70,392.03 L664.20,391.46 L664.70,390.08 L665.20,387.89 L665.70,384.91 L666.20,381.15 L666.70,376.64 L667.20,371.41 L667.70,365.47 L668.20,358.87 L668.70,351.64 L669.20,343.83 L669.70,335.47 L670.20,326.62 L670.70,317.33 L671.20,307.65 L671.70,297.63 L672.20,287.34 L672.70,276.83 L673.20,266.15 L673.70,255.38 L674.20,248.37 L674.70,247.07 L675.20,245.84 L675.70,244.72 L676.20,243.77 L676.70,243.01 L677.20,242.48 L677.70,242.20 L678.20,242.20 L678.70,242.58 L679.20,243.28 L679.70,244.24 L680.20,245.30 L680.70,246.14 L681.20,246.78 L681.70,247.30 L682.20,247.73 L682.70,248.08 L683.20,248.35 L683.70,248.55 L684.20,248.68 L684.70,248.77 L685.20,248.82 L685.70,248.85 L686.20,248.87 L686.70,248.88 L687.20,248.89 L687.70,248.90 L687.75,248.90 L939.56,248.90" stroke="#17becf"/>
<path d="M130.72,248.90 L649.30,248.90 L649.80,248.82 L650.30,248.73 L650.80,248.65 L651.30,248.57 L651.80,248.48 L652.30,248.39 L652.80,248.31 L653.30,248.23 L653.80,248.16 L654.30,248.10 L654.80,248.03 L655.30,247.95 L655.80,247.87 L656.30,247.77 L656.80,247.66 L657.30,247.53 L657.80,247.38 L658.30,247.16 L658.80,246.84 L659.30,246.42 L659.80,245.90 L660.30,245.31 L660.80,244.64 L661.30,243.90 L661.80,243.10 L662.30,242.14 L662.80,240.85 L663.30,239.26 L663.80,237.41 L664.30,235.31 L664.80,232.59 L665.30,229.35 L665.80,225.79 L666.30,222.14 L666.80,218.24 L667.30,213.93 L667.80,209.13 L668.30,203.71 L668.80,197.98 L669.30,192.25 L669.80,186.76 L670.30,181.34 L670.80,175.85 L671.30,170.11 L671.80,163.69 L672.30,156.31 L672.80,148.63 L673.30,141.36 L673.80,135.20 L674.30,130.84 L674.80,127.64 L675.30,124.78 L675.80,122.73 L676.30,121.95 L676.80,122.80 L677.30,125.32 L677.80,129.49 L678.30,135.26 L678.80,142.54 L679.30,151.23 L679.80,161.23 L680.30,172.40 L680.80,184.58 L681.30,197.62 L681.80,211.35 L682.30,225.57 L682.80,240.11 L683.30,255.06 L683.80,270.36 L684.30,285.41 L684.80,300.01 L685.30,313.99 L685.80,327.16 L686.30,339.39 L686.80,350.50 L687.30,360.38 L687.80,368.89 L688.30,375.94 L688.80,381.43 L689.30,385.30 L689.80,387.51 L690.30,388.03 L690.80,387.22 L691.30,385.25 L691.80,382.15 L692.30,377.94 L692.80,372.65 L693.30,366.33 L693.80,359.04 L694.30,350.82 L694.80,341.76 L695.30,331.92 L695.80,321.39 L696.30,310.25 L696.80,298.61 L697.30,286.55 L697.80,274.17 L698.30,261.59 L698.80,248.90 L699.30,242.76 L699.80,236.86 L700.30,231.43 L700.80,226.66 L701.30,222.75 L701.80,219.84 L702.30,218.05 L702.80,217.45 L703.30,217.88 L703.80,218.89 L704.30,220.16 L704.80,222.17 L705.30,224.62 L705.80,227.25 L706.30,230.17 L706.80,232.74 L707.30,235.00 L707.80,236.98 L708.30,238.64 L708.80,240.12 L709.30,241.44 L709.80,242.60 L710.30,243.66 L710.80,244.62 L711.30,245.45 L711.80,246.14 L712.30,246.75 L712.80,247.25 L713.30,247.62 L713.80,247.92 L714.30,248.16 L714.80,248.34 L715.30,248.48 L715.80,248.59 L716.30,248.66 L716.80,248.71 L717.30,248.76 L717.80,248.79 L718.30,248.83 L718.80,248.85 L719.30,248.88 L719.80,248.90 L719.96,248.90 L939.56,248.90" stroke="#1f77b4"/>
<path d="M130.72,248.90 L677.10,248.90 L677.60,248.83 L678.10,248.77 L678.60,248.70 L679.10,248.63 L679.60,248.56 L680.10,248.49 L680.60,248.42 L681.10,248.36 L681.60,248.31 L682.10,248.25 L682.60,248.19 L683.10,248.13 L683.60,248.06 L684.10,247.99 L684.60,247.90 L685.10,247.79 L685.60,247.67 L686.10,247.49 L686.60,247.23 L687.10,246.89 L687.60,246.48 L688.10,246.00 L688.60,245.46 L689.10,244.87 L689.60,244.22 L690.10,243.45 L690.60,242.40 L691.10,241.12 L691.60,239.63 L692.10,237.94 L692.60,235.74 L693.10,233.12 L693.60,230.25 L694.10,227.30 L694.60,224.15 L695.10,220.68 L695.60,216.80 L696.10,212.43 L696.60,207.80 L697.10,203.18 L697.60,198.75 L698.10,194.38 L698.60,189.95 L699.10,185.32 L699.60,180.14 L700.10,174.18 L700.60,167.98 L701.10,162.11 L701.60,157.14 L702.10,153.62 L702.60,151.04 L703.10,148.74 L703.60,147.08 L704.10,146.45 L704.60,147.49 L705.10,150.60 L705.60,155.71 L706.10,162.71 L706.60,171.47 L707.10,181.81 L707.60,193.51 L708.10,206.34 L708.60,220.04 L709.10,234.32 L709.60,248.90 L710.10,263.33 L710.60,277.60 L711.10,291.56 L711.60,305.05 L712.10,317.93 L712.60,330.04 L713.10,341.27 L713.60,351.49 L714.10,360.58 L714.60,368.45 L715.10,375.01 L715.60,380.19 L716.10,383.93 L716.60,386.19 L717.10,386.95 L717.60,386.37 L718.10,384.65 L718.60,381.80 L719.10,377.84 L719.60,372.81 L720.10,366.74 L720.60,359.69 L721.10,351.72 L721.60,342.89 L722.10,333.27 L722.60,322.96 L723.10,312.02 L723.60,300.56 L724.10,288.67 L724.60,276.45 L725.10,264.00 L725.60,251.42 L726.10,240.65 L726.60,230.63 L727.10,221.28 L727.60,212.94 L728.10,205.91 L728.60,200.46 L729.10,196.78 L729.60,195.01 L730.10,195.04 L730.60,196.03 L731.10,197.56 L731.60,199.32 L732.10,201.98 L732.60,205.31 L733.10,208.78 L733.60,212.65 L734.10,216.75 L734.60,220.40 L735.10,223.65 L735.60,226.62 L736.10,229.20 L736.60,231.48 L737.10,233.56 L737.60,235.45 L738.10,237.15 L738.60,238.71 L739.10,240.17 L739.60,241.50 L740.10,242.69 L740.60,243.70 L741.10,244.61 L741.60,245.42 L742.10,246.10 L742.60,246.63 L743.10,247.06 L743.60,247.43 L744.10,247.74 L744.60,247.97 L745.10,248.16 L745.60,248.32 L746.10,248.43 L746.60,248.52 L747.10,248.59 L747.60,248.65 L748.10,248.71 L748.60,248.75 L749.10,248.79 L749.60,248.83 L750.10,248.86 L750.60,248.89 L750.86,248.90 L939.56,248.90" stroke="#ff7f0e"/>
<path d="M130.72,248.90 L708.90,248.90 L709.40,248.87 L709.90,248.83 L710.40,248.78 L710.90,248.72 L711.40,248.66 L711.90,248.60 L712.40,248.52 L712.90,248.43 L713.40,248.32 L713.90,248.20 L714.40,248.03 L714.90,247.81 L715.40,247.54 L715.90,247.22 L716.40,246.80 L716.90,246.30 L717.40,245.70 L717.90,245.00 L718.40,244.11 L718.90,243.02 L719.40,241.78 L719.90,240.43 L720.40,238.87 L720.90,237.08 L721.40,235.11 L721.90,232.98 L722.40,230.70 L722.90,228.21 L723.40,225.46 L723.90,222.46 L724.40,219.18 L724.90,215.48 L725.40,211.24 L725.90,206.61 L726.40,201.50 L726.90,195.67 L727.40,189.94 L727.90,184.91 L728.40,179.99 L728.90,175.72 L729.40,172.76 L729.90,170.41 L730.40,168.52 L730.90,167.58 L731.40,168.10 L731.90,170.32 L732.40,174.20 L732.90,179.66 L733.40,186.58 L733.90,194.82 L734.40,204.20 L734.90,214.52 L735.40,225.57 L735.90,237.11 L736.40,248.90 L736.90,263.16 L737.40,277.27 L737.90,291.07 L738.40,304.40 L738.90,317.12 L739.40,329.10 L739.90,340.20 L740.40,350.30 L740.90,359.29 L741.40,367.07 L741.90,373.55 L742.40,378.67 L742.90,382.37 L743.40,384.60 L743.90,385.35 L744.40,384.74 L744.90,382.91 L745.40,379.89 L745.90,375.69 L746.40,370.36 L746.90,363.94 L747.40,356.49 L747.90,348.08 L748.40,338.79 L748.90,328.68 L749.40,317.87 L749.90,306.44 L750.40,294.49 L750.90,282.13 L751.40,269.48 L751.90,256.64 L752.40,242.76 L752.90,227.59 L753.40,212.99 L753.90,199.34 L754.40,187.02 L754.90,176.35 L755.40,167.62 L755.90,161.07 L756.40,156.85 L756.90,155.10 L757.40,155.47 L757.90,156.96 L758.40,159.14 L758.90,161.62 L759.40,164.89 L759.90,169.34 L760.40,174.40 L760.90,179.54 L761.40,185.26 L761.90,191.37 L762.40,197.09 L762.90,202.06 L763.40,206.74 L763.90,211.02 L764.40,214.78 L764.90,218.17 L765.40,221.30 L765.90,224.19 L766.40,226.85 L766.90,229.28 L767.40,231.56 L767.90,233.71 L768.40,235.70 L768.90,237.51 L769.40,239.11 L769.90,240.52 L770.40,241.82 L770.90,242.99 L771.40,243.99 L771.90,244.79 L772.40,245.47 L772.90,246.06 L773.40,246.56 L773.90,246.98 L774.40,247.31 L774.90,247.60 L775.40,247.84 L775.90,248.03 L776.40,248.17 L776.90,248.29 L777.40,248.39 L777.90,248.48 L778.40,248.56 L778.90,248.63 L779.40,248.69 L779.90,248.75 L780.40,248.80 L780.90,248.85 L781.40,248.88 L781.70,248.90 L939.56,248.90" stroke="#2ca02c"/>
<path d="M130.72,248.90 L738.97,248.90 L739.47,248.88 L739.97,248.86 L740.47,248.83 L740.97,248.80 L741.47,248.76 L741.97,248.72 L742.47,248.67 L742.97,248.61 L743.47,248.54 L743.97,248.44 L744.47,248.30 L744.97,248.14 L745.47,247.93 L745.97,247.65 L746.47,247.32 L746.97,246.93 L747.47,246.42 L747.97,245.78 L748.47,245.06 L748.97,244.24 L749.47,243.29 L749.97,242.20 L750.47,241.00 L750.97,239.72 L751.47,238.29 L751.97,236.71 L752.47,234.95 L752.97,233.00 L753.47,230.72 L753.97,228.15 L754.47,225.32 L754.97,222.02 L755.47,218.82 L755.97,215.99 L756.47,213.28 L756.97,211.18 L757.47,209.78 L757.97,208.61 L758.47,207.98 L758.97,208.45 L759.47,210.71 L759.97,214.68 L760.47,220.19 L760.97,226.99 L761.47,234.77 L761.97,243.18 L762.47,253.34 L762.97,266.36 L763.47,279.22 L763.97,291.81 L764.47,304.01 L764.97,315.73 L765.47,326.84 L765.97,337.26 L766.47,346.88 L766.97,355.63 L767.47,363.43 L767.97,370.20 L768.47,375.88 L768.97,380.43 L769.47,383.81 L769.97,385.97 L770.47,386.91 L770.97,386.52 L771.47,384.60 L771.97,381.15 L772.47,376.22 L772.97,369.85 L773.47,362.11 L773.97,353.11 L774.47,342.93 L774.97,331.69 L775.47,319.53 L775.97,306.56 L776.47,292.95 L776.97,278.84 L777.47,264.40 L777.97,249.78 L778.47,233.84 L778.97,217.99 L779.47,202.51 L779.97,187.59 L780.47,173.39 L780.97,160.09 L781.47,147.84 L781.97,136.80 L782.47,127.09 L782.97,118.82 L783.47,112.11 L783.97,107.02 L784.47,103.61 L784.97,101.94 L785.47,102.01 L785.97,103.66 L786.47,106.43 L786.97,109.83 L787.47,113.56 L787.97,118.85 L788.47,125.50 L788.97,132.81 L789.47,140.16 L789.97,148.31 L790.47,157.05 L790.97,165.47 L791.47,172.82 L791.97,179.69 L792.47,186.11 L792.97,191.94 L793.47,197.08 L793.97,201.84 L794.47,206.26 L794.97,210.37 L795.47,214.18 L795.97,217.69 L796.47,220.98 L796.97,224.10 L797.47,227.04 L797.97,229.74 L798.47,232.19 L798.97,234.36 L799.47,236.32 L799.97,238.15 L800.47,239.79 L800.97,241.21 L801.47,242.37 L801.97,243.35 L802.47,244.22 L802.97,244.98 L803.47,245.62 L803.97,246.15 L804.47,246.60 L804.97,246.99 L805.47,247.31 L805.97,247.56 L806.47,247.76 L806.97,247.93 L807.47,248.08 L807.97,248.21 L808.47,248.33 L808.97,248.43 L809.47,248.52 L809.97,248.61 L810.47,248.69 L810.97,248.77 L811.47,248.83 L811.97,248.88 L812.24,248.90 L939.56,248.90" stroke="#d62728"/>
<path d="M130.72,248.90 L770.00,248.90 L770.50,248.91 L771.00,248.95 L771.50,249.01 L772.00,249.09 L772.50,249.19 L773.00,249.31 L773.50,249.45 L774.00,249.60 L774.50,249.78 L775.00,249.97 L775.50,250.17 L776.00,250.38 L776.50,250.61 L777.00,250.85 L777.50,251.11 L778.00,251.46 L778.50,251.93 L779.00,252.49 L779.50,253.14 L780.00,253.88 L780.50,254.69 L781.00,255.56 L781.50,256.49 L782.00,257.59 L782.50,258.89 L783.00,260.39 L783.50,262.09 L784.00,263.96 L784.50,266.01 L785.00,268.23 L785.50,270.60 L786.00,273.35 L786.50,276.64 L787.00,280.41 L787.50,284.59 L788.00,289.11 L788.50,294.11 L789.00,300.18 L789.50,306.92 L790.00,313.82 L790.50,320.38 L791.00,326.33 L791.50,332.08 L792.00,337.73 L792.50,343.59 L793.00,350.27 L793.50,357.49 L794.00,364.92 L794.50,372.22 L795.00,379.04 L795.50,385.05 L796.00,389.89 L796.50,393.22 L797.00,394.71 L797.50,394.28 L798.00,392.36 L798.50,388.99 L799.00,384.20 L799.50,378.04 L800.00,370.58 L800.50,361.88 L801.00,352.03 L801.50,341.14 L802.00,329.32 L802.50,316.68 L803.00,303.35 L803.50,289.48 L804.00,275.19 L804.50,260.64 L805.00,245.32 L805.50,227.48 L806.00,209.80 L806.50,192.45 L807.00,175.56 L807.50,159.26 L808.00,143.69 L808.50,128.98 L809.00,115.25 L809.50,102.61 L810.00,91.15 L810.50,80.99 L811.00,72.18 L811.50,64.82 L812.00,58.96 L812.50,54.65 L813.00,51.91 L813.50,50.78 L814.00,51.54 L814.50,54.36 L815.00,58.56 L815.50,63.43 L816.00,69.25 L816.50,77.48 L817.00,87.22 L817.50,97.46 L818.00,108.03 L818.50,119.92 L819.00,131.93 L819.50,142.73 L820.00,152.44 L820.50,161.58 L821.00,169.93 L821.50,177.31 L822.00,184.02 L822.50,190.26 L823.00,196.04 L823.50,201.39 L824.00,206.31 L824.50,210.90 L825.00,215.25 L825.50,219.33 L826.00,223.09 L826.50,226.48 L827.00,229.47 L827.50,232.18 L828.00,234.69 L828.50,236.94 L829.00,238.85 L829.50,240.39 L830.00,241.72 L830.50,242.88 L831.00,243.89 L831.50,244.74 L832.00,245.42 L832.50,246.01 L833.00,246.52 L833.50,246.92 L834.00,247.23 L834.50,247.48 L835.00,247.71 L835.50,247.90 L836.00,248.07 L836.50,248.22 L837.00,248.35 L837.50,248.47 L838.00,248.59 L838.50,248.70 L839.00,248.79 L839.50,248.86 L839.86,248.90 L939.56,248.90" stroke="#9467bd"/>
<path d="M130.72,248.90 L793.00,248.90 L793.50,248.92 L794.00,248.98 L794.50,249.07 L795.00,249.20 L795.50,249.36 L796.00,249.55 L796.50,249.76 L797.00,250.00 L797.50,250.27 L798.00,250.55 L798.50,250.86 L799.00,251.18 L799.50,251.51 L800.00,251.86 L800.50,252.23 L801.00,252.72 L801.50,253.31 L802.00,254.01 L802.50,254.81 L803.00,255.70 L803.50,256.67 L804.00,257.73 L804.50,258.88 L805.00,260.29 L805.50,261.98 L806.00,263.93 L806.50,266.12 L807.00,268.53 L807.50,271.14 L808.00,274.23 L808.50,277.85 L809.00,281.93 L809.50,286.39 L810.00,291.14 L810.50,296.13 L811.00,301.85 L811.50,308.26 L812.00,314.98 L812.50,321.60 L813.00,328.36 L813.50,335.16 L814.00,341.11 L814.50,346.75 L815.00,352.55 L815.50,358.45 L816.00,364.39 L816.50,370.30 L817.00,376.13 L817.50,381.82 L818.00,387.31 L818.50,392.54 L819.00,397.45 L819.50,401.99 L820.00,406.09 L820.50,409.69 L821.00,412.74 L821.50,415.18 L822.00,416.95 L822.50,417.99 L823.00,418.23 L823.50,417.40 L824.00,415.40 L824.50,412.23 L825.00,407.93 L825.50,402.52 L826.00,396.03 L826.50,388.52 L827.00,380.03 L827.50,370.63 L828.00,360.38 L828.50,349.35 L829.00,337.63 L829.50,325.28 L830.00,312.40 L830.50,299.07 L831.00,285.40 L831.50,271.47 L832.00,257.39 L832.50,242.04 L833.00,224.99 L833.50,208.21 L834.00,191.90 L834.50,176.25 L835.00,161.44 L835.50,147.64 L836.00,135.02 L836.50,123.71 L837.00,113.84 L837.50,105.54 L838.00,98.90 L838.50,93.99 L839.00,90.88 L839.50,89.59 L840.00,90.14 L840.50,92.28 L841.00,95.48 L841.50,99.24 L842.00,103.53 L842.50,109.64 L843.00,117.03 L843.50,124.97 L844.00,132.97 L844.50,141.97 L845.00,151.40 L845.50,160.27 L846.00,168.03 L846.50,175.35 L847.00,182.15 L847.50,188.29 L848.00,193.74 L848.50,198.80 L849.00,203.51 L849.50,207.88 L850.00,211.93 L850.50,215.67 L851.00,219.19 L851.50,222.53 L852.00,225.65 L852.50,228.53 L853.00,231.13 L853.50,233.43 L854.00,235.53 L854.50,237.48 L855.00,239.22 L855.50,240.73 L856.00,241.95 L856.50,242.99 L857.00,243.92 L857.50,244.72 L858.00,245.41 L858.50,245.96 L859.00,246.44 L859.50,246.86 L860.00,247.20 L860.50,247.47 L861.00,247.68 L861.50,247.86 L862.00,248.02 L862.50,248.16 L863.00,248.28 L863.50,248.39 L864.00,248.49 L864.50,248.59 L865.00,248.68 L865.50,248.76 L866.00,248.82 L866.50,248.88 L866.77,248.90 L939.56,248.90" stroke="#8c564b"/>
<path d="M130.72,248.90 L823.50,248.90 L824.00,248.92 L824.50,248.98 L825.00,249.07 L825.50,249.19 L826.00,249.34 L826.50,249.53 L827.00,249.74 L827.50,249.97 L828.00,250.23 L828.50,250.51 L829.00,250.81 L829.50,251.12 L830.00,251.45 L830.50,251.79 L831.00,252.15 L831.50,252.61 L832.00,253.18 L832.50,253.86 L833.00,254.64 L833.50,255.51 L834.00,256.47 L834.50,257.51 L835.00,258.63 L835.50,259.99 L836.00,261.62 L836.50,263.52 L837.00,265.67 L837.50,268.03 L838.00,270.60 L838.50,273.57 L839.00,277.09 L839.50,281.08 L840.00,285.47 L840.50,290.17 L841.00,295.10 L841.50,300.64 L842.00,306.94 L842.50,313.63 L843.00,320.30 L843.50,326.93 L844.00,333.71 L844.50,340.00 L845.00,346.04 L845.50,352.44 L846.00,359.03 L846.50,365.67 L847.00,372.21 L847.50,378.48 L848.00,384.33 L848.50,389.62 L849.00,394.18 L849.50,397.87 L850.00,400.53 L850.50,402.00 L851.00,402.14 L851.50,400.87 L852.00,398.22 L852.50,394.19 L853.00,388.83 L853.50,382.19 L854.00,374.33 L854.50,365.32 L855.00,355.24 L855.50,344.18 L856.00,332.26 L856.50,319.56 L857.00,306.22 L857.50,292.36 L858.00,278.10 L858.50,263.57 L859.00,248.90 L859.50,232.89 L860.00,217.06 L860.50,201.58 L861.00,186.64 L861.50,172.40 L862.00,159.02 L862.50,146.65 L863.00,135.44 L863.50,125.50 L864.00,116.94 L864.50,109.88 L865.00,104.38 L865.50,100.50 L866.00,98.29 L866.50,97.79 L867.00,99.00 L867.50,101.55 L868.00,104.93 L868.50,108.63 L869.00,113.57 L869.50,120.13 L870.00,127.59 L870.50,135.24 L871.00,143.39 L871.50,152.39 L872.00,161.28 L872.50,169.15 L873.00,176.35 L873.50,183.12 L874.00,189.29 L874.50,194.74 L875.00,199.74 L875.50,204.38 L876.00,208.70 L876.50,212.69 L877.00,216.37 L877.50,219.81 L878.00,223.07 L878.50,226.14 L879.00,228.97 L879.50,231.53 L880.00,233.80 L880.50,235.85 L881.00,237.76 L881.50,239.47 L882.00,240.96 L882.50,242.17 L883.00,243.18 L883.50,244.09 L884.00,244.88 L884.50,245.54 L885.00,246.09 L885.50,246.55 L886.00,246.95 L886.50,247.28 L887.00,247.54 L887.50,247.74 L888.00,247.92 L888.50,248.07 L889.00,248.21 L889.50,248.32 L890.00,248.43 L890.50,248.53 L891.00,248.62 L891.50,248.70 L892.00,248.77 L892.50,248.84 L893.00,248.89 L893.18,248.90 L939.56,248.90" stroke="#e377c2"/>
<path d="M130.72,248.90 L850.00,248.90 L850.50,248.91 L851.00,248.93 L851.50,248.98 L852.00,249.04 L852.50,249.11 L853.00,249.20 L853.50,249.30 L854.00,249.42 L854.50,249.55 L855.00,249.70 L855.50,249.86 L856.00,250.03 L856.50,250.21 L857.00,250.40 L857.50,250.61 L858.00,250.82 L858.50,251.05 L859.00,251.36 L859.50,251.79 L860.00,252.33 L860.50,252.97 L861.00,253.69 L861.50,254.50 L862.00,255.37 L862.50,256.30 L863.00,257.41 L863.50,258.80 L864.00,260.44 L864.50,262.29 L865.00,264.32 L865.50,266.50 L866.00,268.90 L866.50,271.64 L867.00,274.72 L867.50,278.14 L868.00,281.91 L868.50,286.03 L869.00,290.86 L869.50,296.83 L870.00,303.42 L870.50,310.10 L871.00,316.73 L871.50,323.71 L872.00,330.73 L872.50,337.46 L873.00,343.86 L873.50,350.78 L874.00,358.08 L874.50,365.50 L875.00,372.78 L875.50,379.66 L876.00,385.87 L876.50,391.16 L877.00,395.26 L877.50,397.91 L878.00,398.85 L878.50,398.07 L879.00,395.74 L879.50,391.88 L880.00,386.54 L880.50,379.77 L881.00,371.63 L881.50,362.22 L882.00,351.64 L882.50,339.98 L883.00,327.38 L883.50,313.96 L884.00,299.87 L884.50,285.24 L885.00,270.24 L885.50,255.02 L886.00,239.62 L886.50,224.24 L887.00,209.13 L887.50,194.42 L888.00,180.28 L888.50,166.86 L889.00,154.29 L889.50,142.70 L890.00,132.21 L890.50,122.94 L891.00,114.98 L891.50,108.41 L892.00,103.30 L892.50,99.70 L893.00,97.65 L893.50,97.19 L894.00,98.41 L894.50,100.97 L895.00,104.36 L895.50,108.08 L896.00,113.04 L896.50,119.62 L897.00,127.11 L897.50,134.79 L898.00,142.97 L898.50,152.01 L899.00,160.93 L899.50,168.83 L900.00,176.06 L900.50,182.86 L901.00,189.05 L901.50,194.53 L902.00,199.54 L902.50,204.21 L903.00,208.54 L903.50,212.54 L904.00,216.24 L904.50,219.69 L905.00,222.97 L905.50,226.05 L906.00,228.89 L906.50,231.47 L907.00,233.74 L907.50,235.80 L908.00,237.71 L908.50,239.43 L909.00,240.92 L909.50,242.14 L910.00,243.16 L910.50,244.07 L911.00,244.86 L911.50,245.53 L912.00,246.08 L912.50,246.54 L913.00,246.94 L913.50,247.28 L914.00,247.53 L914.50,247.74 L915.00,247.91 L915.50,248.07 L916.00,248.20 L916.50,248.32 L917.00,248.43 L917.50,248.52 L918.00,248.61 L918.50,248.70 L919.00,248.77 L919.50,248.84 L920.00,248.89 L920.18,248.90 L939.56,248.90" stroke="#7f7f7f"/>
<path d="M130.72,248.90 L878.50,248.90 L879.00,248.92 L879.50,248.97 L880.00,249.04 L880.50,249.15 L881.00,249.29 L881.50,249.44 L882.00,249.62 L882.50,249.82 L883.00,250.04 L883.50,250.27 L884.00,250.52 L884.50,250.78 L885.00,251.06 L885.50,251.40 L886.00,251.85 L886.50,252.40 L887.00,253.03 L887.50,253.74 L888.00,254.53 L888.50,255.38 L889.00,256.30 L889.50,257.36 L890.00,258.64 L890.50,260.15 L891.00,261.89 L891.50,263.85 L892.00,266.04 L892.50,268.69 L893.00,272.17 L893.50,276.24 L894.00,280.65 L894.50,285.14 L895.00,289.53 L895.50,294.01 L896.00,298.70 L896.50,303.69 L897.00,309.10 L897.50,315.20 L898.00,322.46 L898.50,330.14 L899.00,337.40 L899.50,343.82 L900.00,350.54 L900.50,357.54 L901.00,364.60 L901.50,371.53 L902.00,378.13 L902.50,384.22 L903.00,389.57 L903.50,394.01 L904.00,397.33 L904.50,399.33 L905.00,399.82 L905.50,398.69 L906.00,395.97 L906.50,391.67 L907.00,385.85 L907.50,378.57 L908.00,369.91 L908.50,359.96 L909.00,348.82 L909.50,336.61 L910.00,323.47 L910.50,309.54 L911.00,294.95 L911.50,279.88 L912.00,264.47 L912.50,248.90 L913.00,233.15 L913.50,217.57 L914.00,202.31 L914.50,187.54 L915.00,173.40 L915.50,160.05 L916.00,147.63 L916.50,136.25 L917.00,126.05 L917.50,117.12 L918.00,109.57 L918.50,103.46 L919.00,98.86 L919.50,95.82 L920.00,94.38 L920.50,94.58 L921.00,96.40 L921.50,99.37 L922.00,102.97 L922.50,106.95 L923.00,112.61 L923.50,119.65 L924.00,127.36 L924.50,135.10 L925.00,143.73 L925.50,152.92 L926.00,161.71 L926.50,169.39 L927.00,176.59 L927.50,183.30 L928.00,189.38 L928.50,194.75 L929.00,199.73 L929.50,204.36 L930.00,208.66 L930.50,212.64 L931.00,216.31 L931.50,219.76 L932.00,223.03 L932.50,226.10 L933.00,228.93 L933.50,231.49 L934.00,233.74 L934.50,235.80 L935.00,237.71 L935.50,239.43 L936.00,240.90 L936.50,242.11 L937.00,243.13 L937.50,244.03 L938.00,244.82 L938.50,245.49 L939.00,246.04 L939.50,246.51 L939.56,246.56" stroke="#bcbd22"/>
<path d="M130.72,248.90 L903.00,248.90 L903.50,248.91 L904.00,248.93 L904.50,248.98 L905.00,249.04 L905.50,249.11 L906.00,249.20 L906.50,249.30 L907.00,249.42 L907.50,249.55 L908.00,249.70 L908.50,249.86 L909.00,250.03 L909.50,250.21 L910.00,250.40 L910.50,250.61 L911.00,250.82 L911.50,251.05 L912.00,251.36 L912.50,251.80 L913.00,252.34 L913.50,252.98 L914.00,253.71 L914.50,254.51 L915.00,255.38 L915.50,256.30 L916.00,257.38 L916.50,258.71 L917.00,260.27 L917.50,262.03 L918.00,263.97 L918.50,266.06 L919.00,268.37 L919.50,271.03 L920.00,274.04 L920.50,277.40 L921.00,281.11 L921.50,285.18 L922.00,289.82 L922.50,295.72 L923.00,302.32 L923.50,308.91 L924.00,315.03 L924.50,321.10 L925.00,327.13 L925.50,333.07 L926.00,338.86 L926.50,344.77 L927.00,351.27 L927.50,358.17 L928.00,365.24 L928.50,372.27 L929.00,379.04 L929.50,385.31 L930.00,390.88 L930.50,395.51 L931.00,398.99 L931.50,401.10 L932.00,401.62 L932.50,400.50 L933.00,397.78 L933.50,393.50 L934.00,387.70 L934.50,380.45 L935.00,371.81 L935.50,361.88 L936.00,350.77 L936.50,338.58 L937.00,325.46 L937.50,311.52 L938.00,296.94 L938.50,281.84 L939.00,266.40 L939.50,250.78 L939.56,248.90" stroke="#17becf"/>
</g>
<rect x="90.5" y="32.5" width="890" height="405" fill="none" stroke="#000" stroke-width="1.11"/>
<g class="tk">
<line x1="149.5" y1="437.2" x2="149.5" y2="442.5"/>
<line x1="278.5" y1="437.2" x2="278.5" y2="442.5"/>
<line x1="406.5" y1="437.2" x2="406.5" y2="442.5"/>
<line x1="535.5" y1="437.2" x2="535.5" y2="442.5"/>
<line x1="664.5" y1="437.2" x2="664.5" y2="442.5"/>
<line x1="793.5" y1="437.2" x2="793.5" y2="442.5"/>
<line x1="921.5" y1="437.2" x2="921.5" y2="442.5"/>
<line x1="85.5" y1="49.5" x2="90" y2="49.5"/>
<line x1="85.5" y1="99.5" x2="90" y2="99.5"/>
<line x1="85.5" y1="149.5" x2="90" y2="149.5"/>
<line x1="85.5" y1="199.5" x2="90" y2="199.5"/>
<line x1="85.5" y1="249.5" x2="90" y2="249.5"/>
<line x1="85.5" y1="299.5" x2="90" y2="299.5"/>
<line x1="85.5" y1="349.5" x2="90" y2="349.5"/>
<line x1="85.5" y1="398.5" x2="90" y2="398.5"/>
</g>
<g class="txt"><g class="tl">
<text x="289.20" y="23.80" font-size="17.90" textLength="59.60" lengthAdjust="spacingAndGlyphs">FBPINN</text>
<text x="355.20" y="23.80" font-size="17.90" textLength="91.60" lengthAdjust="spacingAndGlyphs">subdomain</text>
<text x="452.20" y="23.80" font-size="17.90" textLength="109.60" lengthAdjust="spacingAndGlyphs">contributions</text>
<text x="567.20" y="23.80" font-size="17.90" textLength="119.40" lengthAdjust="spacingAndGlyphs">(omega=15.0,</text>
<text x="692.20" y="23.80" font-size="17.90" textLength="89.60" lengthAdjust="spacingAndGlyphs">n_sub=30)</text>
<text x="530.20" y="476.80" font-size="13.90" textLength="9.60" lengthAdjust="spacingAndGlyphs">x</text>
<text transform="translate(20.50,249.60) rotate(-90)" font-size="13.90" textLength="26.60" lengthAdjust="spacingAndGlyphs">u(x)</text>
<text x="139.20" y="456.80" font-size="13.90" textLength="19.60" lengthAdjust="spacingAndGlyphs">−6</text>
<text x="268.20" y="456.80" font-size="13.90" textLength="18.80" lengthAdjust="spacingAndGlyphs">−4</text>
<text x="397.20" y="456.80" font-size="13.90" textLength="18.60" lengthAdjust="spacingAndGlyphs">−2</text>
<text x="532.20" y="456.80" font-size="13.90" textLength="8.60" lengthAdjust="spacingAndGlyphs">0</text>
<text x="659.20" y="456.80" font-size="13.90" textLength="8.60" lengthAdjust="spacingAndGlyphs">2</text>
<text x="789.00" y="456.80" font-size="13.90" textLength="8.00" lengthAdjust="spacingAndGlyphs">4</text>
<text x="917.20" y="456.80" font-size="13.90" textLength="8.60" lengthAdjust="spacingAndGlyphs">6</text>
<text x="42.20" y="53.80" font-size="13.90" textLength="38.60" lengthAdjust="spacingAndGlyphs">0.100</text>
<text x="42.20" y="103.80" font-size="13.90" textLength="37.60" lengthAdjust="spacingAndGlyphs">0.075</text>
<text x="42.20" y="153.80" font-size="13.90" textLength="38.60" lengthAdjust="spacingAndGlyphs">0.050</text>
<text x="42.20" y="203.80" font-size="13.90" textLength="37.60" lengthAdjust="spacingAndGlyphs">0.025</text>
<text x="42.20" y="253.80" font-size="13.90" textLength="38.60" lengthAdjust="spacingAndGlyphs">0.000</text>
<text x="30.20" y="304.80" font-size="13.90" textLength="49.60" lengthAdjust="spacingAndGlyphs">−0.025</text>
<text x="30.20" y="354.80" font-size="13.90" textLength="49.60" lengthAdjust="spacingAndGlyphs">−0.050</text>
<text x="30.20" y="403.80" font-size="13.90" textLength="49.60" lengthAdjust="spacingAndGlyphs">−0.075</text>
</g>
</g>
</svg>
</body></html>
